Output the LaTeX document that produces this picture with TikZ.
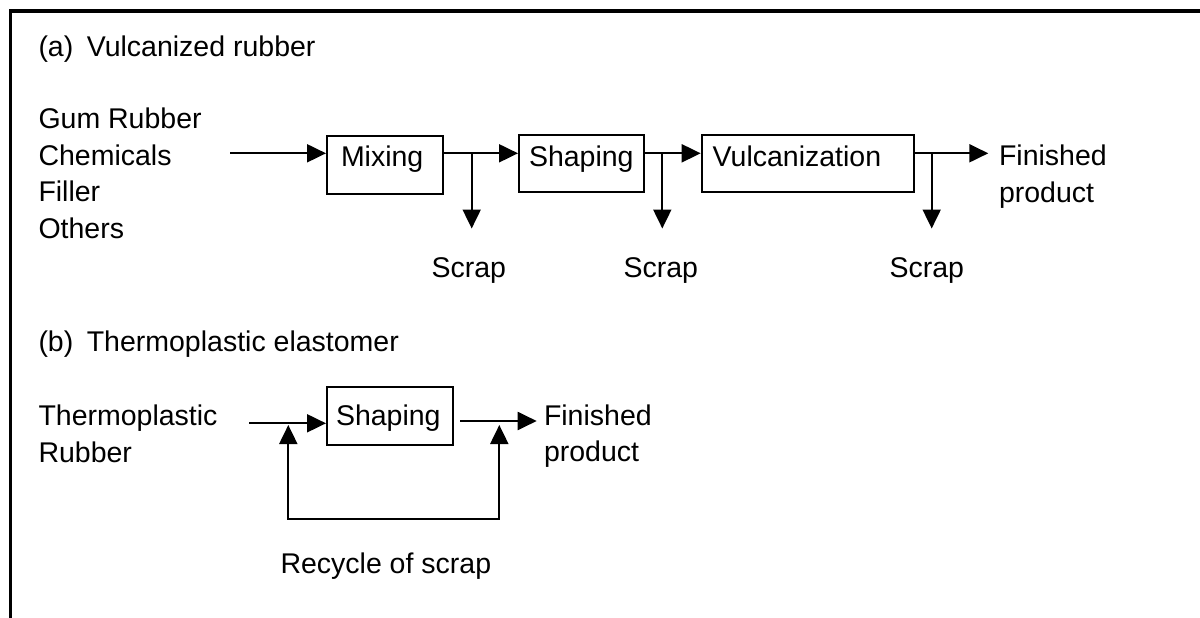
\documentclass[tikz,border=0pt]{standalone}
\usepackage{fontspec}
\setmainfont{Liberation Sans}
\usetikzlibrary{arrows.meta}
\begin{document}
\begin{tikzpicture}[x=1pt, y=-1pt,
  font=\fontsize{28.5}{36.8}\selectfont,
  line width=2pt,
  >={Triangle[length=19pt,width=18pt]},
  lbl/.style={anchor=base west, inner sep=0pt, align=left},
  pbox/.style={draw, line width=2pt, anchor=north west, inner ysep=0pt, align=left}]
\useasboundingbox (0,0) rectangle (1200,618);
% frame
\draw[line width=3.7pt] (10.5,618) -- (10.5,10.8) -- (1200,10.8);

% (a) vulcanized rubber
% multi-line labels are placed by the baseline of their last line
\node[lbl] (ta) at (37.5,56.7) {(a)\hspace{13.5pt}Vulcanized rubber};
\node[lbl] (inputs) at (37.5,238.7) {Gum Rubber\\Chemicals\\Filler\\Others};
\node[pbox, inner xsep=14pt, text width=88pt, text height=30.7pt, text depth=27pt] (mix) at (326,135) {Mixing};
\node[pbox, inner xsep=10pt, text width=105pt, text height=31.7pt, text depth=25.3pt] (shpA) at (518,134) {Shaping};
\node[pbox, inner xsep=11pt, text width=190pt, text height=31.7pt, text depth=25.3pt] (vul) at (700.7,134) {Vulcanization};
\node[lbl] (finA) at (998,202.5) {Finished\\product};
\node[lbl] (scr1) at (430.5,277) {Scrap};
\node[lbl] (scr2) at (622.5,277) {Scrap};
\node[lbl] (scr3) at (888.5,277) {Scrap};

\coordinate (feed) at (230,153.3);
\coordinate (endA) at (988.3,153.3);
\coordinate (drop) at (0,228.5);
\coordinate (j1) at (471.7,153.3);
\coordinate (j2) at (662.3,153.3);
\coordinate (j3) at (931.7,153.3);
\draw[->] (feed) -- (feed -| mix.west);
\draw[->] (feed -| mix.east) -- (feed -| shpA.west);
\draw[->] (feed -| shpA.east) -- (feed -| vul.west);
\draw[->] (feed -| vul.east) -- (endA);
\draw[->] (j1) -- (j1 |- drop);
\draw[->] (j2) -- (j2 |- drop);
\draw[->] (j3) -- (j3 |- drop);

% (b) thermoplastic elastomer
\node[lbl] (tb) at (37.5,351.7) {(b)\hspace{13.5pt}Thermoplastic elastomer};
\node[lbl] (tpr) at (37.5,462.3) {Thermoplastic\\Rubber};
\node[pbox, inner xsep=9pt, text width=108pt, text height=38.3pt, text depth=19.7pt] (shpB) at (326,386) {Shaping};
\node[lbl] (finB) at (543,461.8) {Finished\\product};
\node[lbl] (rec) at (279.5,573.3) {Recycle of scrap};

\coordinate (feedB) at (249.3,423.3);
\coordinate (outB) at (460,421);
\coordinate (endB) at (536.7,421);
\coordinate (retL) at (288.3,425);
\coordinate (retR) at (499.3,425);
\coordinate (loop) at (0,519.3);
\draw[->] (feedB) -- (feedB -| shpB.west);
\draw[->] (outB) -- (endB);
\draw[<->] (retL) -- (retL |- loop) -- (retR |- loop) -- (retR);
\end{tikzpicture}
\end{document}
